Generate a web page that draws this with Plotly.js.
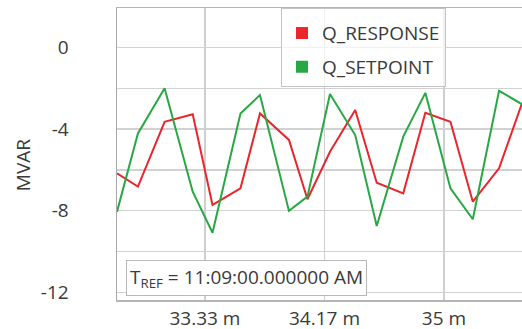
<!DOCTYPE html>
<html>
<head>
<meta charset="utf-8">
<script src="https://cdn.plot.ly/plotly-3.0.1.min.js"></script>
<style>html,body{margin:0;padding:0;background:#fff;}#chart{width:522px;height:329px;}</style>
</head>
<body>
<div id="chart"></div>
<script>
// time in minutes
var timeMin = [32.720, 32.866, 33.052, 33.248, 33.386, 33.581, 33.717, 33.919, 34.048, 34.205, 34.381, 34.531, 34.716, 34.870, 35.045, 35.201, 35.384, 35.542];
var qResponse = [-6.17, -6.82, -3.64, -3.27, -7.72, -6.90, -3.23, -4.53, -7.44, -5.11, -3.06, -6.63, -7.15, -3.20, -3.64, -7.56, -5.92, -2.77];
var qSetpoint = [-8.05, -4.21, -2.00, -7.07, -9.08, -3.23, -2.33, -8.01, -7.31, -2.28, -4.29, -8.75, -4.37, -2.22, -6.90, -8.42, -2.12, -2.77];
var xTickVals = [33.3333, 34.1667, 35];
var xTickText = ['33.33 m', '34.17 m', '35 m'];
var yTickVals = [0, -4, -8, -12];
var yTickText = ['0', '-4', '-8', '-12'];
var yMinorVals = [0, -2, -4, -6, -8, -10, -12];
var seriesNames = ['Q_RESPONSE', 'Q_SETPOINT'];
var yTitle = 'MVAR';
var tRef = 'T<sub>REF</sub> = 11:09:00.000000 AM';

var red = '#e8262b', green = '#27a844';
var font = 'Open Sans, Noto Sans, sans-serif';
var fs = 19;

var traces = [
  {x: timeMin, y: qResponse, mode: 'lines', line: {color: red, width: 2}, showlegend: false, name: seriesNames[0]},
  {x: timeMin, y: qSetpoint, mode: 'lines', line: {color: green, width: 2}, showlegend: false, name: seriesNames[1]},
  {x: [null], y: [null], mode: 'markers', marker: {color: red, symbol: 'square', size: 12}, name: seriesNames[0], legendgroup: 'a'},
  {x: [null], y: [null], mode: 'markers', marker: {color: green, symbol: 'square', size: 12}, name: seriesNames[1], legendgroup: 'b'}
];

var layout = {
  width: 522, height: 329,
  margin: {l: 117, r: 0, t: 8, b: 29},
  paper_bgcolor: '#fff', plot_bgcolor: '#fff',
  font: {family: font, size: fs, color: '#3a3a3a'},
  showlegend: true,
  legend: {
    x: 0.405, y: 1, xanchor: 'left', yanchor: 'top',
    bgcolor: 'rgba(255,255,255,0.7)', bordercolor: '#c4c4c4', borderwidth: 1,
    font: {family: font, size: fs, color: '#3a3a3a'},
    title: {text: ' ', font: {size: 4}},
    traceorder: 'grouped', tracegroupgap: 6
  },
  xaxis: {
    range: [32.720, 35.544],
    tickmode: 'array', tickvals: xTickVals, ticktext: xTickText,
    showgrid: true, gridcolor: '#cfcfcf', gridwidth: 1.5,
    showline: true, linecolor: '#b5b5b5', linewidth: 1.5, mirror: true,
    ticks: '', zeroline: false, ticklabelstandoff: 1,
    tickfont: {family: font, size: fs, color: '#3a3a3a'}
  },
  yaxis: {
    range: [-12.38, 1.94],
    tickmode: 'array', tickvals: yTickVals, ticktext: yTickText,
    showgrid: true, gridcolor: '#d2d2d2', gridwidth: 1.5,
    minor: {tickmode: 'array', tickvals: yMinorVals, showgrid: true, gridcolor: '#d2d2d2', gridwidth: 1.5, ticks: ''},
    showline: true, linecolor: '#a8a8a8', linewidth: 1.5,
    ticks: '', zeroline: false, ticklabelstandoff: 43,
    tickfont: {family: font, size: fs, color: '#3a3a3a'}
  },
  annotations: [{
    xref: 'paper', yref: 'paper', x: 0, y: 0, xanchor: 'left', yanchor: 'bottom',
    xshift: 9, yshift: 4, text: tRef, showarrow: false, align: 'left',
    bgcolor: '#ffffff', bordercolor: '#b8b8b8', borderwidth: 1, borderpad: 3,
    font: {family: font, size: fs, color: '#3a3a3a'}
  }, {
    xref: 'paper', yref: 'paper', x: -0.232, y: 0.462, xanchor: 'center', yanchor: 'middle',
    text: yTitle, textangle: -90, showarrow: false,
    font: {family: font, size: fs, color: '#3a3a3a'}
  }]
};

Plotly.newPlot('chart', traces, layout, {staticPlot: true, displayModeBar: false});
</script>
</body>
</html>
